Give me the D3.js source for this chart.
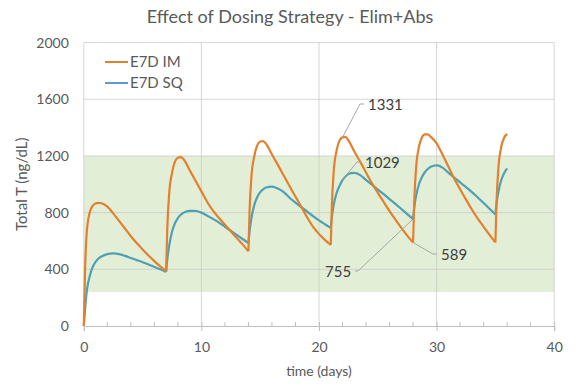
<!DOCTYPE html>
<html><head><meta charset="utf-8">
<script src="https://cdn.jsdelivr.net/npm/d3@7"></script>
<style>
html,body{margin:0;padding:0;background:#fff;}
text{font-family:Lato,"Open Sans",sans-serif;}
</style></head>
<body><svg id="c" width="584" height="392"></svg>
<script>
const time = [
0,0.1,0.25,0.5,0.75,1,1.25,1.5,2,2.5,3,3.5,4,4.5,5,5.5,6,6.5,
7,7.1,7.25,7.5,7.75,8,8.25,8.5,9,9.5,10,10.5,11,11.5,12,12.5,13,13.5,
14,14.1,14.25,14.5,14.75,15,15.25,15.5,16,16.5,17,17.5,18,18.5,19,19.5,20,20.5,
21,21.1,21.25,21.5,21.75,22,22.25,22.5,23,23.5,24,24.5,25,25.5,26,26.5,27,27.5,
28,28.1,28.25,28.5,28.75,29,29.25,29.5,30,30.5,31,31.5,32,32.5,33,33.5,34,34.5,
35,35.1,35.25,35.5,35.75,36];
const e7dIM = [
0,370,660,800,848,865,869,866,842,795,742,688,633,585,540,497,458,421,
388,690,925,1080,1160,1188,1192,1175,1100,1025,950,875,812,762,715,668,622,576,
528,820,1050,1200,1275,1302,1305,1285,1210,1137,1062,986,913,840,766,700,650,608,
572,860,1090,1240,1310,1331,1335,1310,1232,1160,1083,1008,940,875,810,750,693,638,
589,880,1110,1265,1330,1352,1352,1335,1289,1210,1125,1040,965,892,822,758,700,643,
590,880,1110,1265,1330,1355];
const e7dSQ = [
0,110,245,350,415,452,476,490,507,512,507,495,480,465,450,434,417,400,
382,470,560,665,725,762,785,800,812,812,800,778,755,730,700,672,643,614,
585,670,760,855,910,945,965,977,983,970,945,905,870,838,808,775,745,718,
692,770,855,940,990,1029,1055,1072,1080,1065,1030,997,963,930,895,862,826,790,
755,835,915,1000,1050,1085,1108,1124,1134,1118,1082,1048,1013,980,945,907,868,828,
787,865,945,1030,1080,1112];
const doseDays = [0,7,14,21,28,35];
const seriesNames = ["E7D IM","E7D SQ"];
const yTicks = [0,400,800,1200,1600,2000];
const xTicks = [0,10,20,30,40];
const xMinorTicks = [2,4,6,8,12,14,16,18,22,24,26,28,32,34,36,38];
const targetRange = [240,1200];
const labels = [
  {t:22, v:1331, text:"1331", lx:368, ly:105},
  {t:22, v:1029, text:"1029", lx:365, ly:163},
  {t:28, v:755,  text:"755",  lx:325, ly:272},
  {t:28, v:589,  text:"589",  lx:441, ly:255}
];

const svg = d3.select("#c");
const x = d3.scaleLinear().domain([0,40]).range([83.8,554.2]);
const y = d3.scaleLinear().domain([0,2000]).range([326,42.6]);
const colIM = "#e3802e", colSQ = "#4fa0b3";
const txt = "#595959";

// band
svg.append("rect").attr("x",x(0)).attr("width",x(40)-x(0))
  .attr("y",y(targetRange[1])).attr("height",y(targetRange[0])-y(targetRange[1]))
  .attr("fill","#e2efd6");

// grid
const g = svg.append("g");
g.selectAll(".hg").data(yTicks.filter(d=>d>0)).enter().append("line")
  .attr("x1",x(0)).attr("x2",x(40)).attr("y1",d=>y(d)).attr("y2",d=>y(d))
  .attr("stroke","#c8c8c8").attr("stroke-opacity",0.75).attr("stroke-width",1);
g.selectAll(".vg").data(xTicks).enter().append("line")
  .attr("x1",d=>x(d)).attr("x2",d=>x(d)).attr("y1",y(2000)).attr("y2",y(0))
  .attr("stroke","#c8c8c8").attr("stroke-opacity",0.75).attr("stroke-width",1);

// x axis
const xa = svg.append("g").attr("transform",`translate(0,${y(0)})`)
  .call(d3.axisBottom(x).tickValues(xTicks).tickFormat(d3.format("d")).tickSize(5).tickPadding(11));
xa.select(".domain").attr("stroke","#bfbfbf");
xa.selectAll(".tick line").attr("stroke","#bfbfbf").attr("y1",-4);
xa.selectAll("text").attr("fill",txt).style("font-size","14px").style("font-family","Lato");
svg.append("g").selectAll("line").data(xMinorTicks).enter().append("line")
  .attr("x1",d=>x(d)).attr("x2",d=>x(d)).attr("y1",y(0)-4).attr("y2",y(0))
  .attr("stroke","#bfbfbf");

// y axis labels
const ya = svg.append("g").attr("transform",`translate(${x(0)},0)`)
  .call(d3.axisLeft(y).tickValues(yTicks).tickFormat(d3.format("d")).tickSize(0).tickPadding(15));
ya.select(".domain").remove();
ya.selectAll("text").attr("fill",txt).style("font-size","14px").style("font-family","Lato");

// lines
const pts = (vals) => time.map((t,i)=>({t, v:vals[i]}));
const line = d3.line().x(d=>x(d.t)).y(d=>y(d.v)).curve(d3.curveMonotoneX);
function drawSeries(vals, col){
  const p = pts(vals);
  doseDays.forEach(d=>{
    const seg = p.filter(q=>q.t>=d && q.t<=d+7);
    svg.append("path").datum(seg).attr("d",line).attr("fill","none")
      .attr("stroke",col).attr("stroke-width",2.2).attr("stroke-linejoin","round");
  });
}
drawSeries(e7dSQ, colSQ);
drawSeries(e7dIM, colIM);

// labels
labels.forEach(l=>{
  const px = x(l.t), py = y(l.v);
  const isLeft = l.lx < px;
  const pathD = isLeft
    ? `M${px},${py}L${l.lx+33},${l.ly-1}L${l.lx+30},${l.ly-1}`
    : `M${px},${py}L${l.lx-8},${l.ly-1}L${l.lx-4},${l.ly-1}`;
  svg.append("path").attr("d",pathD).attr("fill","none").attr("stroke","#a6a6a6").attr("stroke-width",1);
  svg.append("text").attr("x",l.lx).attr("y",l.ly).attr("dy","0.35em")
    .attr("fill","#404040").style("font-size","15px").text(l.text);
});

// title
svg.append("text").attr("x",290).attr("y",17).attr("dy","0.35em").attr("text-anchor","middle")
  .attr("fill",txt).style("font-size","18px").text("Effect of Dosing Strategy - Elim+Abs");
// axis titles
svg.append("text").attr("x",x(20)).attr("y",371).attr("dy","0.35em").attr("text-anchor","middle")
  .attr("fill",txt).style("font-size","14px").text("time (days)");
svg.append("text").attr("transform",`translate(22,${(y(0)+y(2000))/2}) rotate(-90)`)
  .attr("dy","0.35em").attr("text-anchor","middle")
  .attr("fill",txt).style("font-size","15px").text("Total T (ng/dL)");

// legend
const lg = svg.append("g");
[[seriesNames[0],colIM,62],[seriesNames[1],"#5b9bc9",83]].forEach(([n,c,yy])=>{
  lg.append("line").attr("x1",105).attr("x2",128).attr("y1",yy).attr("y2",yy).attr("stroke",c).attr("stroke-width",2);
  lg.append("text").attr("x",130).attr("y",yy).attr("dy","0.35em").attr("fill",txt).style("font-size","15px").text(n);
});
</script></body></html>
